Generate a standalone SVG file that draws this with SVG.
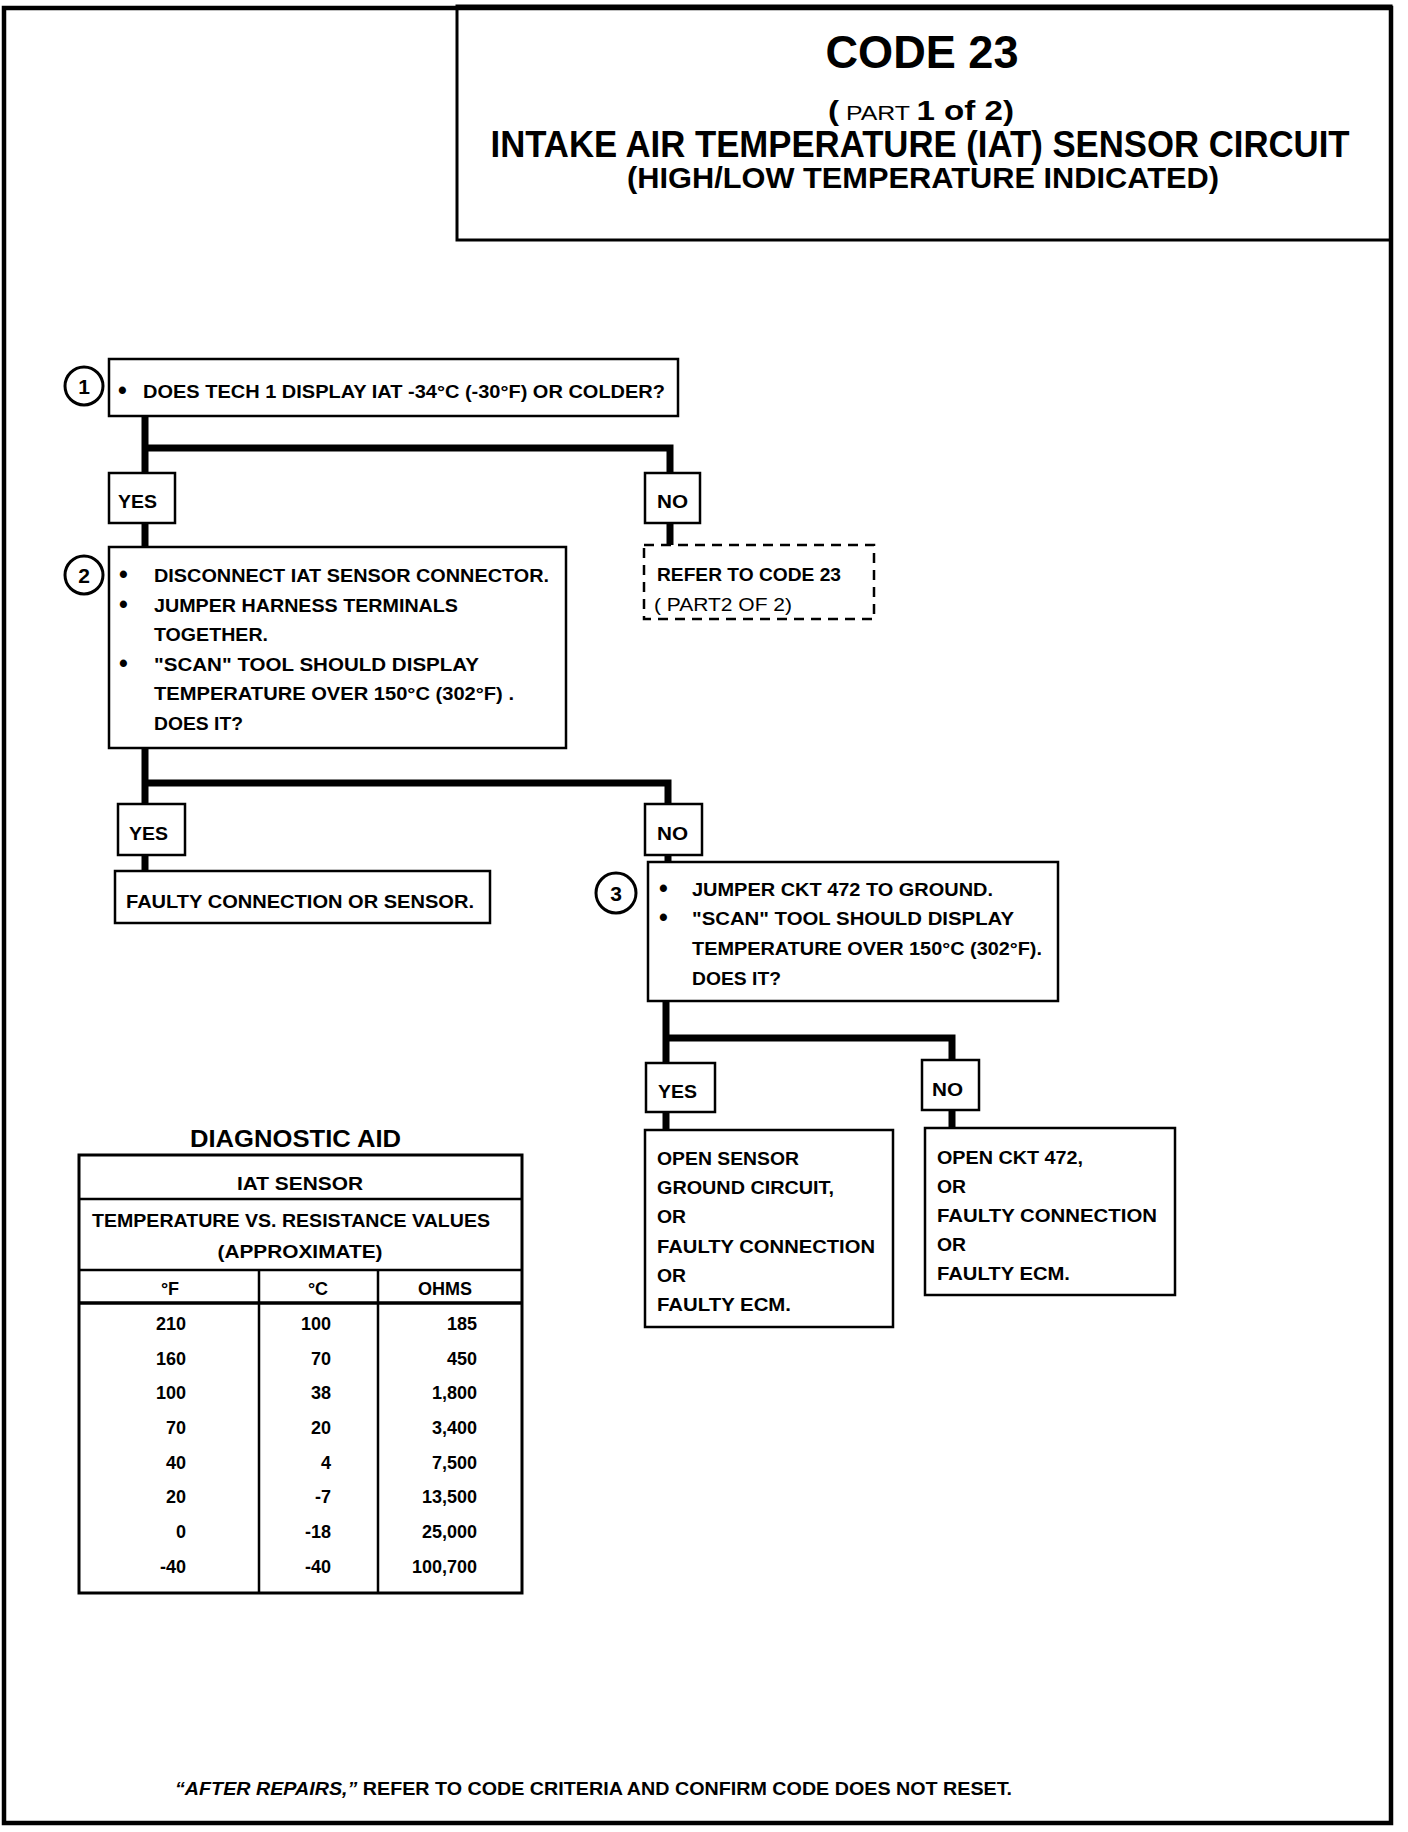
<svg xmlns="http://www.w3.org/2000/svg" width="1408" height="1832" viewBox="0 0 1408 1832">
<style>
text { font-family: "Liberation Sans", Arial, sans-serif; font-weight: bold; fill: #000; }
.t { font-size: 19px; }
.s { font-size: 18px; }
.n { font-size: 21px; text-anchor: middle; }
.bl { font-size: 25px; }
.box { fill: #fff; stroke: #000; stroke-width: 2.5; }
.dash { fill: #fff; stroke: #000; stroke-width: 2.5; stroke-dasharray: 10 7; }
.num { fill: #fff; stroke: #000; stroke-width: 3; }
.conn { fill: none; stroke: #000; stroke-width: 7; stroke-linejoin: miter; }
.rule { stroke: #000; stroke-width: 2.5; fill: none; }
.reg { font-weight: normal; }
</style>
<rect width="1408" height="1832" fill="#fff"/>
<g id="frame">
<rect x="4" y="8" width="1387" height="1815" fill="none" stroke="#000" stroke-width="4.5"/>
</g>
<g id="title">
<rect x="457" y="6" width="934" height="234" fill="none" stroke="#000" stroke-width="3"/>
<text x="922" y="68" font-size="46" text-anchor="middle" textLength="193" lengthAdjust="spacingAndGlyphs">CODE 23</text>
<text x="921" y="120" font-size="28" text-anchor="middle" textLength="186" lengthAdjust="spacingAndGlyphs">(<tspan class="reg" font-size="21"> PART </tspan>1 of 2)</text>
<text x="920" y="157" font-size="36" text-anchor="middle" textLength="859" lengthAdjust="spacingAndGlyphs">INTAKE AIR TEMPERATURE (IAT) SENSOR CIRCUIT</text>
<text x="923" y="188" font-size="29" text-anchor="middle" textLength="592" lengthAdjust="spacingAndGlyphs">(HIGH/LOW TEMPERATURE INDICATED)</text>
</g>
<g id="connectors">
<path class="conn" d="M145 416 V473 M145 448 H670 V473"/>
<path class="conn" d="M145 523 V547"/>
<path class="conn" d="M670 523 V545"/>
<path class="conn" d="M145 748 V804 M145 783 H668 V804"/>
<path class="conn" d="M145 855 V871"/>
<path class="conn" d="M668 855 V862"/>
<path class="conn" d="M666 1001 V1063 M666 1038 H952 V1060"/>
<path class="conn" d="M666 1112 V1130"/>
<path class="conn" d="M952 1110 V1128"/>
</g>
<g id="step1">
<circle class="num" cx="84" cy="386" r="19"/>
<text class="n" x="84" y="394">1</text>
<rect class="box" x="109" y="359" width="569" height="57"/>
<text class="bl" x="118" y="399">•</text>
<text class="t" x="143" y="398" textLength="522" lengthAdjust="spacingAndGlyphs">DOES TECH 1 DISPLAY IAT -34°C (-30°F) OR COLDER?</text>
</g>
<g id="yes1">
<rect class="box" x="109" y="473" width="66" height="50"/>
<text class="t" x="118" y="508" textLength="39" lengthAdjust="spacingAndGlyphs">YES</text>
</g>
<g id="no1">
<rect class="box" x="645" y="473" width="55" height="50"/>
<text class="t" x="657" y="508" textLength="31" lengthAdjust="spacingAndGlyphs">NO</text>
</g>
<g id="refer">
<rect class="dash" x="644" y="545" width="230" height="74"/>
<text class="t" x="657" y="581" textLength="184" lengthAdjust="spacingAndGlyphs">REFER TO CODE 23</text>
<text class="t reg" x="654" y="611" textLength="138" lengthAdjust="spacingAndGlyphs">( PART2 OF 2)</text>
</g>
<g id="step2">
<circle class="num" cx="84" cy="575" r="19"/>
<text class="n" x="84" y="583">2</text>
<rect class="box" x="109" y="547" width="457" height="201"/>
<text class="bl" x="119" y="583">•</text>
<text class="t" x="154" y="582" textLength="395" lengthAdjust="spacingAndGlyphs">DISCONNECT IAT SENSOR CONNECTOR.</text>
<text class="bl" x="119" y="613">•</text>
<text class="t" x="154" y="612" textLength="304" lengthAdjust="spacingAndGlyphs">JUMPER HARNESS TERMINALS</text>
<text class="t" x="154" y="641" textLength="114" lengthAdjust="spacingAndGlyphs">TOGETHER.</text>
<text class="bl" x="119" y="672">•</text>
<text class="t" x="154" y="671" textLength="325" lengthAdjust="spacingAndGlyphs">"SCAN" TOOL SHOULD DISPLAY</text>
<text class="t" x="154" y="700" textLength="360" lengthAdjust="spacingAndGlyphs">TEMPERATURE OVER 150°C (302°F) .</text>
<text class="t" x="154" y="730" textLength="89" lengthAdjust="spacingAndGlyphs">DOES IT?</text>
</g>
<g id="yes2">
<rect class="box" x="118" y="804" width="67" height="51"/>
<text class="t" x="129" y="840" textLength="39" lengthAdjust="spacingAndGlyphs">YES</text>
</g>
<g id="faulty">
<rect class="box" x="115" y="871" width="375" height="52"/>
<text class="t" x="126" y="908" textLength="348" lengthAdjust="spacingAndGlyphs">FAULTY CONNECTION OR SENSOR.</text>
</g>
<g id="no2">
<rect class="box" x="645" y="804" width="57" height="51"/>
<text class="t" x="657" y="840" textLength="31" lengthAdjust="spacingAndGlyphs">NO</text>
</g>
<g id="step3">
<circle class="num" cx="616" cy="893" r="20"/>
<text class="n" x="616" y="901">3</text>
<rect class="box" x="648" y="862" width="410" height="139"/>
<text class="bl" x="659" y="897">•</text>
<text class="t" x="692" y="896" textLength="301" lengthAdjust="spacingAndGlyphs">JUMPER CKT 472 TO GROUND.</text>
<text class="bl" x="659" y="926">•</text>
<text class="t" x="692" y="925" textLength="322" lengthAdjust="spacingAndGlyphs">"SCAN" TOOL SHOULD DISPLAY</text>
<text class="t" x="692" y="955" textLength="350" lengthAdjust="spacingAndGlyphs">TEMPERATURE OVER 150°C (302°F).</text>
<text class="t" x="692" y="985" textLength="89" lengthAdjust="spacingAndGlyphs">DOES IT?</text>
</g>
<g id="yes3">
<rect class="box" x="646" y="1063" width="69" height="49"/>
<text class="t" x="658" y="1098" textLength="39" lengthAdjust="spacingAndGlyphs">YES</text>
</g>
<g id="no3">
<rect class="box" x="922" y="1060" width="57" height="50"/>
<text class="t" x="932" y="1096" textLength="31" lengthAdjust="spacingAndGlyphs">NO</text>
</g>
<g id="result-yes3">
<rect class="box" x="645" y="1130" width="248" height="197"/>
<text class="t" x="657" y="1165" textLength="142" lengthAdjust="spacingAndGlyphs">OPEN SENSOR</text>
<text class="t" x="657" y="1194" textLength="177" lengthAdjust="spacingAndGlyphs">GROUND CIRCUIT,</text>
<text class="t" x="657" y="1223" textLength="29" lengthAdjust="spacingAndGlyphs">OR</text>
<text class="t" x="657" y="1253" textLength="218" lengthAdjust="spacingAndGlyphs">FAULTY CONNECTION</text>
<text class="t" x="657" y="1282" textLength="29" lengthAdjust="spacingAndGlyphs">OR</text>
<text class="t" x="657" y="1311" textLength="134" lengthAdjust="spacingAndGlyphs">FAULTY ECM.</text>
</g>
<g id="result-no3">
<rect class="box" x="925" y="1128" width="250" height="167"/>
<text class="t" x="937" y="1164" textLength="146" lengthAdjust="spacingAndGlyphs">OPEN CKT 472,</text>
<text class="t" x="937" y="1193" textLength="29" lengthAdjust="spacingAndGlyphs">OR</text>
<text class="t" x="937" y="1222" textLength="220" lengthAdjust="spacingAndGlyphs">FAULTY CONNECTION</text>
<text class="t" x="937" y="1251" textLength="29" lengthAdjust="spacingAndGlyphs">OR</text>
<text class="t" x="937" y="1280" textLength="133" lengthAdjust="spacingAndGlyphs">FAULTY ECM.</text>
</g>
<g id="diagnostic-aid">
<text x="190" y="1147" font-size="24" textLength="211" lengthAdjust="spacingAndGlyphs">DIAGNOSTIC AID</text>
<rect x="79" y="1155" width="443" height="438" fill="none" stroke="#000" stroke-width="3"/>
<path class="rule" d="M79 1199 H522 M79 1270 H522"/>
<path d="M79 1303 H522" stroke="#000" stroke-width="3.5"/>
<path class="rule" d="M259 1270 V1593 M378 1270 V1593"/>
<text class="s" x="300" y="1190" text-anchor="middle" textLength="126" lengthAdjust="spacingAndGlyphs">IAT SENSOR</text>
<text class="s" x="92" y="1227" textLength="398" lengthAdjust="spacingAndGlyphs">TEMPERATURE VS. RESISTANCE VALUES</text>
<text class="s" x="300" y="1258" text-anchor="middle" textLength="165" lengthAdjust="spacingAndGlyphs">(APPROXIMATE)</text>
<text class="s" x="170" y="1295" text-anchor="middle">°F</text>
<text class="s" x="318" y="1295" text-anchor="middle">°C</text>
<text class="s" x="445" y="1295" text-anchor="middle">OHMS</text>
<g text-anchor="end" class="s">
<text x="186" y="1330">210</text><text x="331" y="1330">100</text><text x="477" y="1330">185</text>
<text x="186" y="1365">160</text><text x="331" y="1365">70</text><text x="477" y="1365">450</text>
<text x="186" y="1399">100</text><text x="331" y="1399">38</text><text x="477" y="1399">1,800</text>
<text x="186" y="1434">70</text><text x="331" y="1434">20</text><text x="477" y="1434">3,400</text>
<text x="186" y="1469">40</text><text x="331" y="1469">4</text><text x="477" y="1469">7,500</text>
<text x="186" y="1503">20</text><text x="331" y="1503">-7</text><text x="477" y="1503">13,500</text>
<text x="186" y="1538">0</text><text x="331" y="1538">-18</text><text x="477" y="1538">25,000</text>
<text x="186" y="1573">-40</text><text x="331" y="1573">-40</text><text x="477" y="1573">100,700</text>
</g>
</g>
<g id="footer">
<text x="175" y="1795" font-size="19" textLength="837" lengthAdjust="spacingAndGlyphs"><tspan font-style="italic">“AFTER REPAIRS,”</tspan> REFER TO CODE CRITERIA AND CONFIRM CODE DOES NOT RESET.</text>
</g>
</svg>
